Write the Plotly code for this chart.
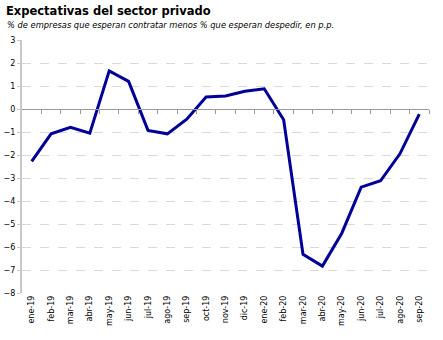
import plotly.graph_objects as go

months = ["ene-19", "feb-19", "mar-19", "abr-19", "may-19", "jun-19", "jul-19",
          "ago-19", "sep-19", "oct-19", "nov-19", "dic-19", "ene-20", "feb-20",
          "mar-20", "abr-20", "may-20", "jun-20", "jul-20", "ago-20", "sep-20"]
values = [-2.28, -1.08, -0.80, -1.05, 1.66, 1.20, -0.93, -1.08, -0.44, 0.52,
          0.57, 0.77, 0.88, -0.47, -6.32, -6.83, -5.40, -3.40, -3.12, -1.95, -0.22]
y_ticks = list(range(-8, 4))

idx = list(range(len(months)))
W, H = 443, 340
ml, mr, mt, mb = 22, 14, 40, 47
ymin, ymax = -8, 3
zero_pos = (0 - ymin) / (ymax - ymin)

fig = go.Figure()
fig.add_trace(go.Scatter(x=idx, y=values, mode="lines",
                         line=dict(color="#000099", width=3), showlegend=False))
fig.add_trace(go.Scatter(x=[idx[0]], y=[0], xaxis="x2", mode="lines",
                         line=dict(width=0), showlegend=False, hoverinfo="skip"))

font = "Verdana, DejaVu Sans, sans-serif"
fig.update_layout(
    width=W, height=H,
    margin=dict(l=ml, r=mr, t=mt, b=mb),
    paper_bgcolor="white", plot_bgcolor="white",
    font=dict(family=font, size=8, color="black"),
    xaxis=dict(range=[-0.5, len(months) - 0.5], tickvals=idx, ticktext=months,
               tickangle=-90, showgrid=False, zeroline=False, showline=False,
               ticks="", tickfont=dict(size=8), automargin=False),
    xaxis2=dict(overlaying="x", anchor="free", position=zero_pos,
                range=[-0.5, len(months) - 0.5],
                tickvals=[i + 0.5 for i in idx[:-1]] + [len(months) - 0.5],
                showticklabels=False, showline=True, linecolor="#999999",
                linewidth=1, ticks="outside", ticklen=4, tickcolor="#999999",
                showgrid=False, zeroline=False, automargin=False),
    yaxis=dict(range=[ymin, ymax], tickvals=y_ticks, showgrid=True,
               gridcolor="#d9d9d9", griddash="dash", gridwidth=1,
               zeroline=False, showline=True, linecolor="#c8c8c8", linewidth=2,
               ticks="outside", ticklen=3, tickcolor="#c8c8c8",
               tickfont=dict(size=8), automargin=False),
    annotations=[
        dict(text="<b>Expectativas del sector privado</b>", x=0, y=1,
             xref="paper", yref="paper", xanchor="left", yanchor="bottom",
             xshift=-ml + 4, yshift=mt - 20, showarrow=False,
             font=dict(size=11.5, family=font)),
        dict(text="<i>% de empresas que esperan contratar menos % que esperan despedir, en p.p.</i>",
             x=0, y=1, xref="paper", yref="paper", xanchor="left", yanchor="bottom",
             xshift=-ml + 5, yshift=mt - 32, showarrow=False,
             font=dict(size=8.3, family=font)),
    ],
)
fig.write_html("out.html")
